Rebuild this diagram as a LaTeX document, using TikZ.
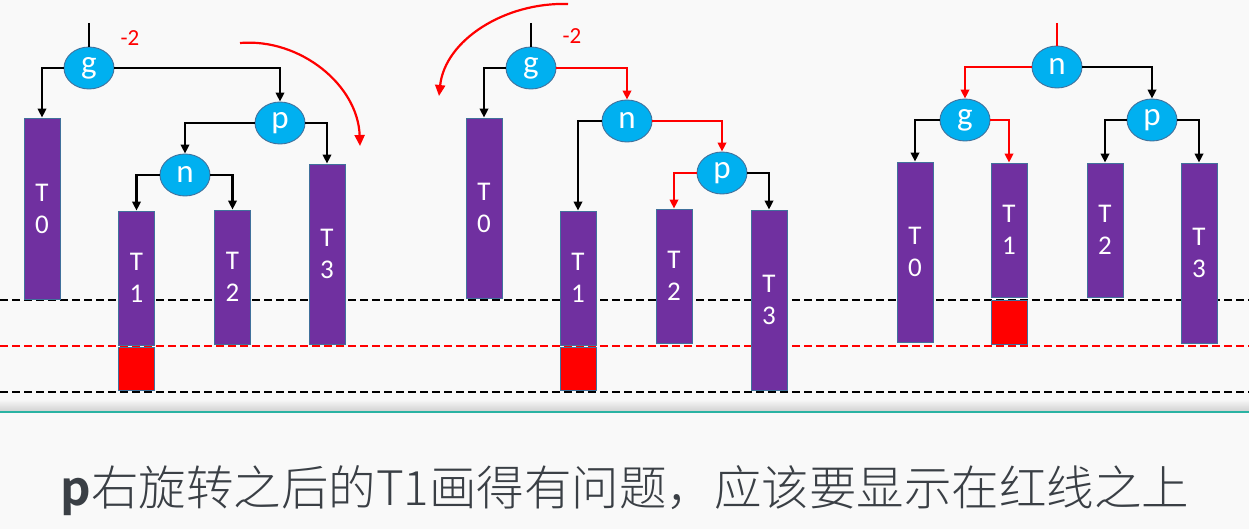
\documentclass[tikz,border=0pt]{standalone}
\usepackage{fontspec}
\setmainfont{Carlito}
\newfontfamily\cjk{Noto Sans CJK SC}[UprightFont={* Light}, BoldFont={* Bold}]
\usetikzlibrary{shapes.geometric,arrows.meta}
\definecolor{purp}{HTML}{7030A0}
\definecolor{bord}{HTML}{41719C}
\definecolor{cyanb}{HTML}{00B0F0}
\definecolor{bg}{HTML}{F9F9F9}
\definecolor{tealline}{HTML}{2AB3A3}
\definecolor{txt}{HTML}{3A3F45}
\tikzset{
  sub/.style={draw=bord, fill=purp, line width=0.9pt, minimum width=36pt, inner sep=0pt, text=white, font=\fontsize{27}{32}\selectfont, align=center},
  redbox/.style={draw=bord, fill=red, line width=0.9pt, minimum width=36pt, inner sep=0pt},
  knot/.style={ellipse, draw=bord, fill=cyanb, line width=0.9pt, minimum width=50pt, minimum height=42pt, inner sep=0pt, text=white, font=\fontsize{33}{33}\selectfont},
  arr/.style={line width=2.2pt, -{Triangle[length=9pt,width=8.5pt]}},
  rarr/.style={arr, red},
  stub/.style={line width=2.2pt},
  hline/.style={line width=2.1pt, dash pattern=on 8pt off 4pt},
  bal/.style={red, font=\fontsize{23}{23}\selectfont},
  swing/.style={red, line width=2.2pt, -{Triangle[length=11pt,width=10pt]}}
}
\begin{document}
\begin{tikzpicture}[x=1pt,y=-1pt]
\fill[bg] (0,0) rectangle (1249,529);
\useasboundingbox (0,0) rectangle (1249,529);
% shadow and separator
\shade[top color=bg, bottom color=gray!35] (0,399) rectangle (1249,411);
\draw[tealline, line width=2pt] (0,412) -- (1249,412);
% level lines
\draw[hline, black] (0,300) -- (1249,300);
\draw[hline, red] (0,346) -- (1249,346);
\draw[hline, black] (0,392) -- (1249,392);

% ---------- left tree ----------
\node[knot] (Lg) at (89,68) {g};
\node[knot] (Lp) at (280,123) {p};
\node[knot] (Ln) at (185,175) {n};
\node[sub, minimum height=181pt] (L0) at (42,208.5) {T\\0};
\node[sub, minimum height=134pt] (L1) at (136.5,278) {T\\1};
\node[redbox, minimum height=43pt] (LR) at (136.5,368.5) {};
\node[sub, minimum height=134pt] (L2) at (232.5,277) {T\\2};
\node[sub, minimum height=180pt] (L3) at (327,254) {T\\3};
\coordinate (Ltop) at (89,23);
\draw[stub] (Ltop) -- (Lg.north);
\node[bal] (Lbal) at (130,38) {-2};
\draw[arr] (Lg.west) -| (L0.north);
\draw[arr] (Lg.east) -| (Lp.north);
\draw[arr] (Lp.west) -| (Ln.north);
\draw[arr] (Lp.east) -| (L3.north);
\draw[arr] (Ln.west) -| (L1.north);
\draw[arr] (Ln.east) -| (L2.north);
\coordinate (La1) at (240,43);
\coordinate (La2) at (360,146);
\draw[swing] (La1) .. controls (300,38) and (358,85) .. (La2);

% ---------- middle tree ----------
\node[knot] (Mg) at (531,68) {g};
\node[knot] (Mn) at (627,121) {n};
\node[knot] (Mp) at (722,173) {p};
\node[sub, minimum height=180pt] (M0) at (484,208) {T\\0};
\node[sub, minimum height=134pt] (M1) at (578,278) {T\\1};
\node[redbox, minimum height=43pt] (MR) at (578,368.5) {};
\node[sub, minimum height=134pt] (M2) at (674,276) {T\\2};
\node[sub, minimum height=180pt] (M3) at (769,300) {T\\3};
\coordinate (Mtop) at (531,23);
\draw[stub] (Mtop) -- (Mg.north);
\node[bal] (Mbal) at (572,36) {-2};
\draw[arr] (Mg.west) -| (M0.north);
\draw[rarr] (Mg.east) -| (Mn.north);
\draw[arr] (Mn.west) -| (M1.north);
\draw[rarr] (Mn.east) -| (Mp.north);
\draw[rarr] (Mp.west) -| (M2.north);
\draw[arr] (Mp.east) -| (M3.north);
\coordinate (Ma1) at (568,4);
\coordinate (Ma2) at (439,96);
\draw[swing] (Ma1) .. controls (505,2) and (445,40) .. (Ma2);

% ---------- right tree ----------
\node[knot] (Rn) at (1057,67) {n};
\node[knot] (Rg) at (965,120) {g};
\node[knot] (Rp) at (1152,120) {p};
\node[sub, minimum height=180pt] (R0) at (915,252) {T\\0};
\node[sub, minimum height=134pt] (R1) at (1009,230) {T\\1};
\node[redbox, minimum height=44pt] (RR) at (1009,322) {};
\node[sub, minimum height=134pt] (R2) at (1105,230) {T\\2};
\node[sub, minimum height=180pt] (R3) at (1199,253) {T\\3};
\coordinate (Rtop) at (1057,23);
\draw[stub, red] (Rtop) -- (Rn.north);
\draw[rarr] (Rn.west) -| (Rg.north);
\draw[arr] (Rn.east) -| (Rp.north);
\draw[arr] (Rg.west) -| (R0.north);
\draw[rarr] (Rg.east) -| (R1.north);
\draw[arr] (Rp.west) -| (R2.north);
\draw[arr] (Rp.east) -| (R3.north);

% ---------- caption ----------
\node[font=\cjk\fontsize{47.5}{47.5}\selectfont, text=txt, inner sep=0pt] (cap) at (625,491) {{\bfseries p}右旋转之后的T1画得有问题，应该要显示在红线之上};
\end{tikzpicture}
\end{document}
